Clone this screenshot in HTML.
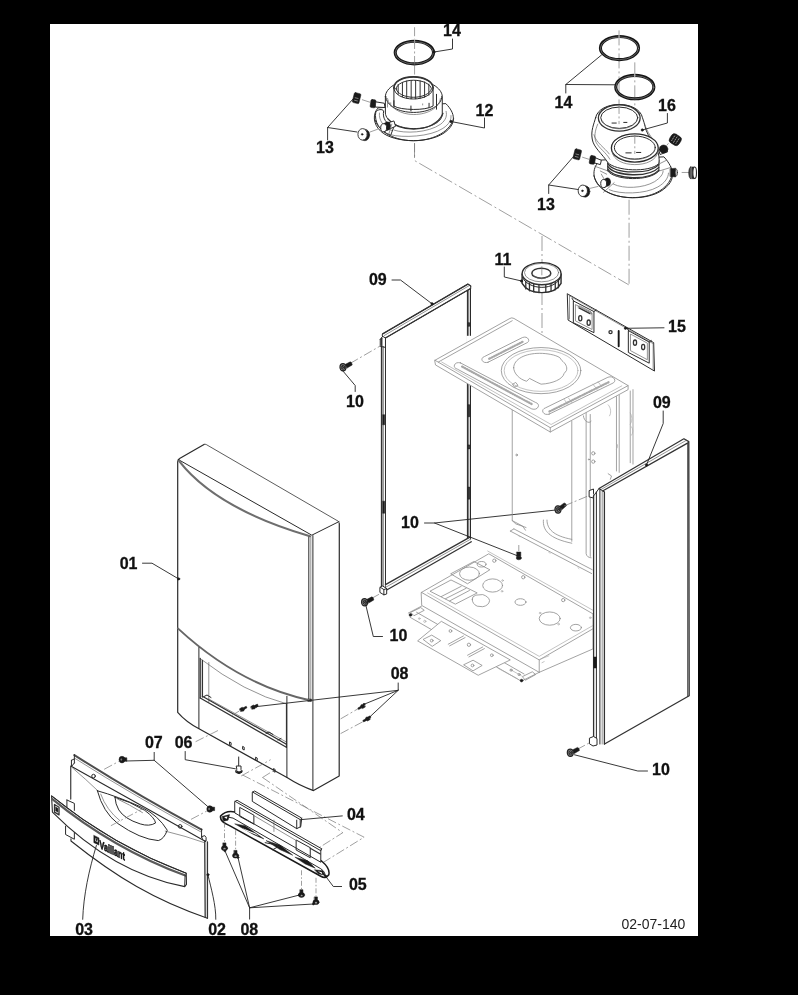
<!DOCTYPE html>
<html><head><meta charset="utf-8">
<style>
html,body{margin:0;padding:0;background:#000;width:798px;height:995px;overflow:hidden}
svg{display:block}
text{font-family:"Liberation Sans",sans-serif;font-weight:bold;font-size:16px;fill:#111;stroke:#111;stroke-width:.3px}
path,ellipse,circle,line,rect,polygon,polyline{vector-effect:non-scaling-stroke;stroke-linejoin:round;stroke-linecap:round}
.l{fill:none;stroke:#2a2a2a;stroke-width:1}
.b{fill:none;stroke:#151515;stroke-width:1.9}
.m{fill:none;stroke:#333;stroke-width:1.3}
.t{fill:none;stroke:#666;stroke-width:.7}
.g{fill:none;stroke:#8c8c8c;stroke-width:.8}
.gg{fill:none;stroke:#aaa;stroke-width:.7}
.d{fill:none;stroke:#777;stroke-width:.7;stroke-dasharray:9 2.5 2 2.5;stroke-linecap:butt}
.dl{fill:none;stroke:#777;stroke-width:.7;stroke-dasharray:15 3 2 3;stroke-linecap:butt}
.w{fill:#fff;stroke:#2a2a2a;stroke-width:1}
.wt{fill:#fff;stroke:#666;stroke-width:.7}
.wg{fill:#fff;stroke:#8c8c8c;stroke-width:.8}
.k{fill:#1a1a1a;stroke:#1a1a1a;stroke-width:.5}
.ld{fill:none;stroke:#222;stroke-width:.9}
</style></head><body>
<svg width="798" height="995" viewBox="0 0 798 995">
<defs><filter id="soft" filterUnits="userSpaceOnUse" x="0" y="0" width="798" height="995" color-interpolation-filters="sRGB"><feGaussianBlur stdDeviation="0.3"/></filter></defs>
<g filter="url(#soft)">
<rect x="0" y="0" width="798" height="995" fill="#000"/>
<rect x="50" y="24" width="648" height="912" fill="#fff"/>
<!-- 00_defs.svg -->
<defs>
<g id="scr10"><path class="k" d="M10 -14 L36 -27 Q44 -26 46 -12 L20 4Z"/><ellipse cx="0" cy="0" rx="15" ry="18" fill="#8a8a8a" stroke="#222" stroke-width="1.2"/><ellipse class="l" cx="1" cy="0" rx="8" ry="10"/><path class="l" d="M-5 -6L7 6M-5 6L7 -6"/></g>
<g id="scr08"><path class="k" d="M-2.6 -.6 L0 -2.2 L2.2 -.6 L1.6 1.6 L-1.4 2Z"/><path class="k" d="M1 -1.6 L4 -3.2 L4.8 -1.6 L2 0Z"/></g>
<g id="scr07"><ellipse class="k" cx="0" cy="0" rx="2.6" ry="2.9"/><ellipse cx="-.6" cy="0" rx=".8" ry="1" fill="#777"/><path class="k" d="M1.6 -1.6h2.6v3h-2.6z"/></g>
<g id="scr08v"><path class="k" d="M-1.2 -3.4h2.4v3h-2.4z"/><ellipse class="k" cx="0" cy="1" rx="2.6" ry="2"/><ellipse cx="0" cy="1.4" rx="1" ry=".7" fill="#999"/></g>
</defs>

<!-- 10_flue12.svg -->
<g transform="translate(330,24) scale(0.21303)">
 <!-- axis -->
 <path class="d" d="M397 15V70M397 195V245M397 560V628"/>
 <!-- ring 14 -->
 <ellipse class="b" style="stroke-width:3.1" cx="396" cy="134" rx="90" ry="53"/>
 <ellipse cx="396" cy="135" rx="90" ry="52.5" fill="none" stroke="#aaa" stroke-width=".5"/>
 <path d="M397 72V90" fill="none" stroke="#d8d8d8" stroke-width="1"/>
 <path class="d" d="M397 75V190"/>
 <!-- flange base -->
 <path class="w" d="M225 395 C200 420 200 470 240 505 C300 560 480 565 550 500 C590 465 590 420 545 375 Z"/>
 <path class="l" d="M212 452 C240 525 330 548 392 548 C470 548 560 515 580 445"/>
 <path class="t" d="M285 520 C340 535 470 530 530 490 C560 470 570 450 568 430"/>
 <path class="t" d="M300 498 C350 515 460 512 520 470 C545 450 550 430 545 410"/>
 <!-- curved bracket left -->
 <path class="w" d="M215 412 C225 400 245 398 252 408 C245 440 262 470 300 482 L285 522 C235 505 205 460 215 412Z"/>
 <path class="t" d="M232 418 C228 450 250 485 290 500"/>
 <!-- collar -->
 <path class="w" d="M260 340 V418 C262 455 320 491 393 491 C466 491 525 462 527 425 V340 C525 300 466 263 393 263 C320 263 260 300 260 340Z"/>
 <path class="m" d="M272 445 C300 480 350 493 393 493 C450 493 510 470 530 420"/>
 <path class="l" d="M262 340 C262 382 320 415 393 415 C466 415 525 382 525 340"/>
 <path class="t" d="M270 350 C275 390 330 425 393 425 C460 425 515 392 518 350"/>
 <!-- inner tube -->
 <path class="w" d="M300 300 V385 C330 405 450 408 484 385 V300 C484 270 440 248 392 248 C340 248 300 270 300 300Z"/>
 <path class="m" style="stroke-width:1.6" d="M300 300 C300 270 340 248 392 248 C440 248 484 270 484 300"/>
 <path class="l" d="M300 300 C300 330 340 352 392 352 C440 352 484 330 484 300"/>
 <path class="l" d="M310 304 C312 282 350 264 392 264 C435 264 472 282 476 304 C472 326 435 344 392 344 C350 344 314 326 310 304Z"/>
 <path d="M320 284V330M340 274V342M360 268V348M381 265V351M402 265V351M423 267V349M444 272V344M464 282V334" fill="none" stroke="#333" stroke-width="1"/>
 <path class="l" d="M380 385V408M465 372V392M300 360V390M500 330V400"/>
 <path class="t" d="M270 360V390M285 370V385M435 375V380"/>
 <!-- screws -->
 <path class="w" d="M212 365 L255 372 L258 392 L214 390Z"/>
 <rect class="k" x="190" y="355" width="24" height="38" rx="6" transform="rotate(8 202 374)"/>
 <path class="w" d="M255 470 L300 455 L308 480 L268 498Z"/>
 <ellipse class="k" cx="270" cy="479" rx="14" ry="19"/>
 <path class="k" d="M253 467 L270 460 L270 498 L253 506Z"/>
 <ellipse class="w" cx="252" cy="487" rx="14" ry="19"/>
 <path class="t" d="M275 520 L290 470"/>
 <!-- 13 parts -->
 <path class="d" d="M150 355L190 368M185 508L235 490"/>
 <g transform="rotate(14 125 348)"><rect class="k" x="109" y="324" width="32" height="48" rx="6"/><path d="M118 348h14M118 360h14" stroke="#fff" stroke-width=".45" fill="none"/></g>
 <ellipse class="k" cx="164" cy="521" rx="22" ry="27"/>
 <ellipse class="w" cx="153" cy="518" rx="22" ry="27" style="stroke-width:.9"/>
 <circle class="k" cx="151" cy="518" r="4"/>
</g>
<!-- leaders / labels for flue12 -->
<path class="ld" d="M434 52 L452.5 49 V39"/>
<circle class="k" cx="434" cy="52" r="1.2"/>
<path class="ld" d="M451 121.5 L484.5 128 V118"/>
<circle class="k" cx="451" cy="121.5" r="1.2"/>
<path class="ld" d="M327.6 140V127.5L353 99M327.6 127.5L357 132"/>
<text x="443.1" y="36">14</text>
<text x="475.6" y="115.5">12</text>
<text x="316.1" y="153">13</text>

<!-- 11_flue16.svg -->
<g transform="translate(530,24) scale(0.21303)">
 <!-- axes -->
 <path class="dl" d="M418 30V470M492 180V610M465 825V1224"/>
 <!-- rings 14 -->
 <ellipse class="b" style="stroke-width:3.1" cx="420" cy="113" rx="89.5" ry="54"/>
 <ellipse cx="420" cy="114" rx="89.5" ry="53.5" fill="none" stroke="#aaa" stroke-width=".5"/>
 <path d="M418 50V70" fill="none" stroke="#d8d8d8" stroke-width="1"/>
 <ellipse class="b" style="stroke-width:3.1" cx="492" cy="296" rx="89.5" ry="55"/>
 <ellipse cx="492" cy="297" rx="89.5" ry="54.5" fill="none" stroke="#aaa" stroke-width=".5"/>
 <path d="M492 232V252" fill="none" stroke="#d8d8d8" stroke-width="1"/>
 <!-- flange base -->
 <path class="w" d="M330 640 C290 670 290 730 330 765 C390 830 570 835 640 765 C680 730 680 680 630 625Z"/>
 <path class="l" d="M300 712 C320 790 410 815 480 815 C560 815 650 785 668 705"/>
 <path class="t" d="M372 778 C420 800 540 800 600 765 C635 745 650 720 650 700"/>
 <path class="t" d="M392 752 C440 775 530 772 585 740 C612 722 625 705 625 690"/>
 <path class="t" d="M305 668L372 692M395 745L345 790M600 692L665 672M640 640L610 655"/>
 <path class="t" d="M330 690L360 705M335 705L352 735"/>
 <!-- base collar threaded -->
 <path class="w" d="M365 640 V690 C400 735 560 740 605 690 V640Z"/>
 <path class="m" d="M365 655 C400 705 560 708 605 660"/>
 <path class="m" d="M365 668 C400 718 560 722 605 673"/>
 <path class="m" d="M366 682 C400 732 560 736 605 686"/>
 <!-- body -->
 <path class="w" d="M308 440 C300 470 285 500 292 540 C298 580 340 610 365 650 C400 690 560 700 605 655 C612 610 590 560 555 520 C540 495 540 470 528 440 C520 400 470 378 420 378 C365 378 315 400 308 440Z"/>
 <path class="t" d="M318 470 C305 500 300 530 310 555 C325 585 355 600 375 635"/>
 <path class="t" d="M300 520 C312 560 350 580 372 610"/>
 <path class="t" d="M538 470 C548 500 560 520 580 545"/>
 <!-- upper tube -->
 <ellipse class="m" cx="419" cy="441" rx="98" ry="62"/>
 <ellipse class="l" cx="419" cy="440" rx="87" ry="50"/>
 <path class="t" d="M340 455 C350 480 390 492 420 492 C455 492 495 478 502 452"/>
 <path class="l" d="M385 465H405M440 462H455"/>
 <!-- lower tube -->
 <ellipse class="w" cx="492" cy="582" rx="110" ry="66" style="stroke-width:1.3"/>
 <ellipse class="l" cx="492" cy="580" rx="96" ry="54"/>
 <path class="t" d="M400 595 C410 620 455 636 492 636 C535 636 578 620 586 592"/>
 <path class="t" d="M385 600 C392 640 440 660 492 660 C545 660 595 640 600 600"/>
 <path class="l" d="M450 605H475M500 603H520"/>
 <path class="d" d="M418 380V470M492 520V610"/>
 <!-- screws on body -->
 <path class="w" d="M300 625 L335 640 L330 660 L295 650Z"/>
 <rect class="k" x="280" y="618" width="26" height="40" rx="7" transform="rotate(10 293 638)"/>
 <ellipse class="k" cx="364" cy="742" rx="14" ry="19"/>
 <path class="k" d="M348 730 L364 723 L364 761 L348 768Z"/>
 <ellipse class="w" cx="346" cy="749" rx="14" ry="19"/>
 <path class="w" d="M606 590 L640 578 L646 600 L612 612Z"/>
 <ellipse class="k" cx="627" cy="587" rx="20" ry="19"/>
 <path class="k" d="M659 679 L684 677 Q690 697 684 718 L659 716Z"/>
 <ellipse cx="687" cy="697.5" rx="5.5" ry="16" fill="#bbb" stroke="#222" stroke-width=".6"/>
 <!-- 13 parts -->
 <path class="d" d="M245 625L283 637M280 772L330 760M650 560L640 572M712 697L748 697"/>
 <g transform="rotate(14 222 612)"><rect class="k" x="206" y="588" width="32" height="48" rx="6"/><path d="M215 612h14M215 624h14" stroke="#fff" stroke-width=".45" fill="none"/></g>
 <ellipse class="k" cx="259" cy="786" rx="22" ry="27"/>
 <ellipse class="w" cx="248" cy="783" rx="22" ry="27" style="stroke-width:.9"/>
 <circle class="k" cx="246" cy="783" r="4"/>
 <!-- right nuts -->
 <g transform="rotate(32 682 543)"><rect class="k" x="656" y="519" width="52" height="48" rx="16"/><path d="M670 530V556M682 528V558M694 530V556" stroke="#eee" stroke-width=".6" fill="none" stroke-dasharray="1.2 1.4"/></g>
 <path class="k" d="M753 671 H772 V726 H753 Q745 722 745 698 Q745 675 753 671Z"/>
 <ellipse class="w" cx="773" cy="698.5" rx="8.5" ry="27" style="stroke-width:1.1"/>
 <path d="M752 676V722M759 673V725" stroke="#ddd" stroke-width=".5" fill="none"/>
</g>
<!-- leaders / labels for flue16 -->
<path class="ld" d="M565.8 93V84.5L601.5 55M565.8 84.5L615 84.8"/>
<path class="ld" d="M667.4 113.5V123L642.3 130"/>
<circle class="k" cx="642.3" cy="130" r="1.2"/>
<path class="ld" d="M548.7 193.5V185L574 156M548.7 185L578 189.5"/>
<text x="554.6" y="107.7">14</text>
<text x="658.1" y="110.5">16</text>
<text x="537.1" y="209.5">13</text>

<!-- 12_mid.svg -->
<!-- long dash-dot lines -->
<path class="dl" d="M414.5 143V160.5L628.7 284.8"/>
<path class="dl" d="M542 236V262M542 290V386"/>
<g transform="translate(490,240) scale(0.26316)">
 <!-- part 11 -->
 <path class="w" style="stroke-width:1.4" d="M122 128 V165 C135 188 165 200 197 200 C230 200 258 188 270 165 V128 C270 105 238 86 197 86 C155 86 122 105 122 128Z"/>
 <path class="m" d="M122 130 C125 152 160 170 197 170 C235 170 268 152 271 130"/>
 <path class="m" d="M136 158V186M150 165V193M166 169V197M186 172V200M212 171V199M232 167V195M248 161V189M260 153V181"/>
 <path class="l" d="M124 142 C130 162 162 180 197 180 C232 180 262 162 268 142"/>
 <ellipse class="t" cx="196" cy="124" rx="65" ry="35"/>
 <ellipse class="m" cx="195" cy="126" rx="36" ry="19" style="stroke-width:1.5"/>
 <path class="t" d="M162 132 C170 142 185 146 196 146 C210 146 226 140 231 132"/>
 <path class="d" d="M197 100V150"/>
 <!-- panel 15 -->
 <path class="w" d="M295 205 L622 390 L625 498 L298 305Z"/>
 <path class="t" d="M302 212 L302 300 M295 205 L302 212 L620 394 V492"/>
 <path class="l" d="M318 232 L395 272 V352 L318 315Z"/>
 <path class="t" d="M326 246 L388 279 V340 L326 308Z"/>
 <path class="l" d="M527 345 L605 388 V468 L527 428Z"/>
 <path class="t" d="M535 358 L598 392 V455 L535 421Z"/>
 <path class="m" d="M338 258 L380 280"/>
 <path class="t" d="M334 254 C336 250 340 250 344 252 L384 273 C388 276 388 282 384 284"/>
 <ellipse class="m" cx="343" cy="297" rx="6" ry="10"/>
 <ellipse class="m" cx="375" cy="314" rx="6" ry="10"/>
 <ellipse class="m" cx="551" cy="390" rx="6" ry="10"/>
 <ellipse class="m" cx="582" cy="407" rx="6" ry="10"/>
 <circle class="m" cx="458" cy="350" r="6"/>
 <path class="b" d="M489 346V404"/>
 <path class="l" d="M318 232l-6 -10M395 272l8 -6M527 345l-6 -10M605 388l8 -6"/>
</g>
<path class="ld" d="M504.3 267V277L521.5 281"/>
<circle class="k" cx="521.5" cy="281" r="1.2"/>
<path class="ld" d="M664 327.8L625.5 328.3"/>
<circle class="k" cx="625.5" cy="328.3" r="1.2"/>
<text x="494.6" y="265.2">11</text>
<text x="668.1" y="331.8">15</text>

<!-- 20_panel09L.svg -->
<g transform="translate(330,270) scale(0.20101)">
 <!-- right (far) vertical -->
 <path class="m" style="stroke-width:1.6" d="M685 82V1332"/><path class="l" d="M699 90V1348"/>
 <path class="t" d="M691 88V1340"/>
 <path class="k" d="M688 262h7v18h-7zM688 670h7v60h-7zM688 870h7v20h-7zM688 1080h7v60h-7z"/>
 <!-- top bar -->
 <path class="w" d="M262 318 L686 70 L700 80 L700 92 L276 338 L262 330Z"/>
 <path class="m" d="M262 318 L686 70 L700 80"/>
 <path class="m" d="M276 338 L699 92"/>
 <path class="t" d="M270 326 L692 78"/>
 <!-- left vertical -->
 <path class="w" d="M255 340 H276 V1580 H255Z" style="stroke:none"/>
 <path class="m" style="stroke-width:1.6" d="M257 340V1585"/><path class="l" d="M276 338V1590"/>
 <path class="t" d="M266 380V1580"/>
 <path class="l" d="M250 345 L262 330 M250 345 V380 L276 385"/>
 <path class="k" d="M263 720h9v50h-9zM263 1150h9v60h-9z"/>
 <!-- bottom bar -->
 <path class="w" d="M276 1565 L694 1330 L703 1350 L280 1592Z" style="stroke:none"/>
 <path class="m" d="M276 1565 L694 1330M282 1592 L703 1352"/>
 <path class="t" d="M278 1578 L698 1340"/>
 <!-- foot -->
 <path class="w" d="M250 1578 L262 1572 L282 1585 L282 1612 L268 1616 L250 1605Z"/>
 <path class="l" d="M268 1590V1616M250 1578L268 1590L282 1585"/>
 <!-- screws 10 -->
 <path class="d" d="M100 465L255 375M205 1635L250 1610"/>
</g>
<use href="#scr10" transform="translate(343,367.3) scale(0.20101)"/>
<use href="#scr10" transform="translate(364.6,602.3) scale(0.20101)"/>
<path class="ld" d="M392 280H400.5L432 303.8"/>
<circle class="k" cx="432" cy="303.8" r="1.2"/>
<path class="ld" d="M355.2 391.5V385.5L342.5 370.5"/>
<path class="ld" d="M382.5 636.5H373.3L365.8 605"/>
<path class="ld" d="M424.5 523H434.5L556 510M434.5 523L518 556"/>
<text x="368.9" y="285">09</text>
<text x="346.1" y="406.7">10</text>
<text x="401.1" y="527.8">10</text>
<text x="389.6" y="641">10</text>

<!-- 30_chassis.svg -->
<!-- chassis body (behind top plate) -->
<g transform="translate(440,380) scale(0.27571)">
 <path class="g" d="M262 105V510L275 522L312 535M478 150V585"/>
 <path class="g" d="M262 510 L300 530 L310 545 M375 508 C372 545 395 575 478 592M388 508 C388 540 410 565 478 578"/>
 <path class="g" d="M255 548 L550 702M268 540 L552 688M255 548L268 540"/>
 <circle class="g" cx="278" cy="272" r="3"/>
 <path class="g" d="M530 118V630C532 640 540 645 548 645M545 125V640"/>
 <path class="g" d="M640 60V330M650 55V335M690 40V300M700 35V305"/>
 <path class="gg" d="M610 90C620 100 622 120 615 130M690 120c8 10 8 30 0 40M695 170c6 8 6 22 0 30M640 230c6 5 6 15 0 20"/>
 <circle class="g" cx="556" cy="266" r="6"/><circle class="g" cx="556" cy="296" r="6"/><circle class="g" cx="540" cy="288" r="2"/>
 <path class="g" d="M520 130 C522 150 540 160 548 150M610 340l12 8l-4 12"/>
 <path class="gg" d="M285 565l4 4M395 625l4 4M500 680l4 4"/>
</g>
<!-- top plate -->
<rect x="466.3" y="335.8" width="6" height="9" fill="#fff"/>
<g transform="translate(420,300) scale(0.28822)">
 <path class="wg" d="M52 209 L312 64 Q318 60 326 64 L722 297 L722 311 L452 458 L55 226Z"/>
 <path class="g" d="M52 209 L452 443 L722 297M452 443V458"/>
 <path class="gg" d="M75 215 L455 432 L700 298"/>
 <path class="g" d="M64 215 L320 72"/>
 <g class="g">
  <path d="M236 216 L368 150 A14 10 0 0 0 356 130 L224 196 A14 10 0 0 0 236 216Z"/>
  <path d="M140 218 L400 355 A14 10 0 0 1 388 378 L130 240 A14 10 0 0 1 140 218Z"/>
  <path d="M448 396 L666 290 A14 10 0 0 0 652 268 L436 374 A14 10 0 0 0 448 396Z"/>
 </g>
 <g fill="none" stroke="#a8a8a8" stroke-width="2.2" stroke-dasharray="1 1.6" stroke-linecap="butt">
  <path d="M240 204L358 144"/>
  <path d="M146 231L391 363"/>
  <path d="M449 387L657 284"/>
 </g>
 <g class="gg">
  <path d="M500 345l14 18M515 340l12 16M600 292l14 18M618 284l12 16"/>
 </g>
 <ellipse class="g" cx="420" cy="245" rx="138" ry="80"/>
 <ellipse class="gg" cx="420" cy="245" rx="128" ry="72"/>
 <path class="g" d="M325 235 C325 205 365 185 415 185 C440 185 470 190 485 200 L492 210 C505 220 512 232 508 245 L500 255 C495 275 460 290 420 292 L405 285 L380 272 L370 282 C345 275 325 255 325 235Z"/>
 <path class="g" d="M322 292l10 -6l8 10l-10 6z"/>
</g>
<!-- bottom tray -->
<g transform="translate(400,540) scale(0.27571)">
 <path class="wg" d="M78 190 L322 50 L700 268 V395 L505 480 L80 238Z"/>
 <path class="g" d="M78 190 L505 435 L700 322M505 435V480"/>
 <path class="gg" d="M100 192 L505 422 L700 310M318 40 L700 255"/>
 <path class="g" d="M110 185 L185 145 L280 192 L202 232Z M150 205 L222 168M165 213L240 175M180 221L252 183"/>
 <path class="g" d="M185 122 L268 78 L326 108 L246 158Z"/>
 <ellipse class="g" cx="252" cy="122" rx="36" ry="24"/>
 <ellipse class="g" cx="336" cy="165" rx="36" ry="24"/>
 <ellipse class="g" cx="296" cy="88" rx="16" ry="10"/>
 <path class="g" d="M262 215 Q260 205 275 200 L300 198 Q322 205 325 220 Q322 238 300 242 L280 240 Q262 232 262 215Z"/>
 <ellipse class="g" cx="437" cy="225" rx="20" ry="12"/>
 <ellipse class="g" cx="543" cy="285" rx="38" ry="24"/>
 <ellipse class="g" cx="638" cy="318" rx="20" ry="12"/>
 <circle class="g" cx="342" cy="75" r="6"/><circle class="g" cx="447" cy="135" r="6"/><circle class="g" cx="592" cy="218" r="6"/>
 <circle class="gg" cx="372" cy="147" r="3"/><circle class="gg" cx="370" cy="186" r="3"/><circle class="gg" cx="508" cy="265" r="3"/><circle class="gg" cx="575" cy="305" r="3"/><circle class="gg" cx="690" cy="282" r="3"/>
 <!-- rail and rollers -->
 <path class="g" d="M30 265 L78 240M36 280 L440 512M60 262L450 486M440 512 L505 480"/>
 <path class="g" d="M40 262 L75 245 L88 255 L52 274Z"/>
 <circle class="k" cx="38" cy="272" r="5"/>
 <path class="g" d="M445 495 L480 478 L492 488 L456 508Z"/>
 <circle class="k" cx="441" cy="510" r="5"/>
 <!-- bracket plate -->
 <path class="wg" d="M65 365 L150 295 L400 435 L285 490Z"/>
 <path class="g" d="M85 360 L115 345 L148 365 L118 385ZM232 452 L265 436 L298 455 L266 474Z"/>
 <path class="g" d="M175 378 L230 348 M180 384L236 354M245 418L300 388M250 424L306 394"/>
 <circle class="g" cx="183" cy="330" r="5"/><circle class="g" cx="250" cy="380" r="6"/><circle class="g" cx="333" cy="418" r="5"/><circle class="g" cx="115" cy="365" r="5"/><circle class="g" cx="263" cy="455" r="5"/>
 <path class="gg" d="M355 465l70 38M400 470l40 22"/>
 <circle class="g" cx="403" cy="472" r="4"/><circle class="g" cx="432" cy="488" r="4"/>
 <circle class="gg" cx="90" cy="295" r="4"/><circle class="gg" cx="70" cy="285" r="3"/>
 <path class="gg" d="M510 432l30 -12M515 445l8 -4"/>
</g>
<!-- middle/back screws 10 -->
<path class="d" d="M518.8 545V551"/>
<use href="#scr10" transform="translate(558,509.5) scale(0.2) rotate(-10)"/>
<path class="k" d="M516.8 552h4v4.5h-4z"/><ellipse class="k" cx="518.8" cy="558" rx="2.6" ry="1.8"/>

<!-- 40_panel09R.svg -->
<!-- right panel 09 -->
<path class="d" d="M564 506L588 496"/>
<path class="w" d="M589.5 490.5 L593.5 489 L593.5 498 L589.5 497Z"/>
<path class="w" d="M593.5 494 L599 488.5 L683.9 438.8 L688.8 441.6 L689.2 695.8 L604.5 744 L597 744.5 L593.5 742Z" style="stroke:none"/>
<path class="m" d="M599 488.5 L683.9 438.8 L688.8 441.6 L689.2 695.8 L604.5 744"/>
<path class="m" d="M602.6 491 L688.4 442.6"/>
<path class="t" d="M600.5 489.8 L686 440.5"/>
<path class="m" d="M593.6 496V742M604.4 492V744"/>
<path class="l" d="M596.4 492V742M599.9 489V744M593.6 496L599 488.5L604.4 492"/>
<path class="t" d="M602.2 491V744"/>
<path class="l" d="M687.8 444V696"/>
<path class="k" d="M594 657h2.5v11h-2.5z"/>
<path class="w" d="M589.8 738 L593.5 736.5 L597 738.5 V745 L593 746 L589.8 744Z"/>
<path class="d" d="M577 749.5L590 742.5"/>
<use href="#scr10" transform="translate(570.3,752.8) scale(0.2)"/>
<path class="ld" d="M647.5 771H637.8L574.5 754.8"/>
<path class="ld" d="M663.2 411V423.5L646.5 465"/>
<circle class="k" cx="646.5" cy="465" r="1.2"/>
<text x="652.9" y="407.5">09</text>
<text x="652.1" y="774.7">10</text>

<!-- 50_cover01.svg -->
<!-- front cover 01 -->
<path class="d" d="M340.6 718.9L360.2 707.5M340.6 733.6L365 720.6"/>
<path class="w" d="M177.7 462 Q177.7 459.6 179.6 458.6 L204 444.4 Q205 443.8 206.2 444.5 L338.2 521.2 Q339.3 521.9 339.3 523.5 L339.2 776 L313.5 790.6 Q300 786 287 777.6 L199 728.8 Q186 722 177.7 712.4Z" style="stroke:none"/>
<path class="l" style="stroke-width:1.2" d="M204 444.4 L179.6 458.6 Q177.7 459.6 177.7 462 L177.7 712.4 Q186 722 199 728.8 L287 777.6 Q300 786 313.5 790.6 L339.2 776 L339.3 523.5"/>
<path d="M204 444.4 Q205 443.8 206.2 444.5 L338.2 521.2 Q339.3 521.9 339.3 523.5" fill="none" stroke="#4a4a4a" stroke-width=".9"/>
<!-- top face front edge -->
<path class="l" d="M178.4 459.6 L311.8 535.2 L339 521.6"/>
<!-- door top curve -->
<path d="M179.2 461.2 Q216 508.6 310 536.2" fill="none" stroke="#6e6e6e" stroke-width="2.1"/>
<!-- door right edge -->
<path class="l" d="M308.8 537V700.5M312.9 535.6V790.4"/>
<path class="t" d="M310.8 536.5V701"/>
<path class="k" d="M308 699h3.4v2.4H308z"/>
<!-- dividing curve -->
<path d="M177.9 628.4 Q239 685 309.7 700.2" fill="none" stroke="#666" stroke-width="1.9"/>
<!-- lower section -->
<path class="l" d="M198.9 647.5V728.5M286.9 696.3V777.5"/>
<!-- window -->
<path class="t" d="M200 658.5 Q245 693 286.5 703.8"/>
<path class="m" d="M200.2 658.5V698M202.4 660.5V697"/>
<path class="t" d="M208.8 662.5V702"/>
<path class="m" d="M200.2 698 L286.4 747.2M202.4 696.2 L286.4 744.2"/>
<path class="t" d="M208.8 699 L286.4 742"/>
<path class="l" d="M286.4 704V747.5"/>
<path class="l" d="M204 696.5l3 -1.5l4 2.5M266 733.5l3 -1.5l4 2.5M278 740l3 -1.5"/>
<!-- bottom edge marks -->
<path class="l" d="M229.5 742.3v2.4l1.6 .8v-2.4zM242.6 746.8v2.4l1.6 .8v-2.4zM255.6 757.6v2.4l1.6 .8v-2.4zM273.5 769v2.4l1.6 .8v-2.4z"/>
<!-- dashes -->
<path class="d" d="M195.6 741.7L218.4 730.3M231.5 715.7L239.6 710.8"/>
<path class="d" d="M241.2 776L270.6 759.7M262.4 777.6L275.4 769.4"/>
<path class="d" d="M242.6 775L364.1 837.2L322.8 862.7M262.6 777.5L342.8 832.7L319 847.7"/>
<!-- screws 08 -->
<use href="#scr08" transform="translate(242.2,709.4)"/>
<use href="#scr08" transform="translate(253.4,707.2)"/>
<use href="#scr08" transform="translate(362.6,706.4) scale(-1,-1)"/>
<use href="#scr08" transform="translate(367.6,718.8) scale(-1,-1)"/>
<path class="ld" d="M398.2 683V690.3L256.5 706.6M398.2 690.3L364 704.3M398.2 690.3L369.7 717"/>
<circle class="k" cx="364" cy="704.3" r="1"/><circle class="k" cx="369.7" cy="717" r="1"/><circle class="k" cx="256.3" cy="706.6" r="1"/>
<!-- part 06 -->
<path class="l" d="M238.7 757V766"/>
<path class="w" d="M236.6 766 h4.4 v3.6 l1 1 v1.6 l-2.8 1.4 l-3.4 -1.2 v-1.8 l.8 -1Z"/>
<path class="k" d="M236.4 770.6l2.6 1.2l2.8 -1.2v1.6l-2.8 1.4l-2.6 -1.2z"/>
<path class="ld" d="M185.2 751.5V759.7L235.4 768.8"/>
<!-- 01 leader -->
<path class="ld" d="M142.5 563.2H152L178.6 578.9"/>
<circle class="k" cx="178.6" cy="578.9" r="1.2"/>
<text x="119.7" y="569">01</text>
<text x="390.7" y="679.3">08</text>
<text x="174.7" y="747.5">06</text>

<!-- 60_flap.svg -->
<g transform="translate(50,740) scale(0.22556)">
 <!-- dashes -->
 <path class="d" d="M240 130L305 95M625 352L695 315"/>
 <!-- back plate -->
 <path class="w" d="M108 65 Q380 238 672 395 L672 432 L108 102Z" style="stroke:none"/>
 <path d="M108 67 Q380 240 672 397" fill="none" stroke="#4d4d4d" stroke-width="2"/><path class="l" d="M108 65V102M672 395V432"/>
 <path class="t" d="M108 80 Q380 252 670 408"/>
 <path class="l" d="M95 90V118L108 102M95 90L108 84"/>
 <path class="w" d="M674 428 L686 424 L692 432 V448 L680 446Z"/>
 <!-- flap body -->
 <path class="w" d="M92 115 Q391 282 690 450 L698 790 C468 712 293 608 93 448 L93 432 L69 419 V382 L75 300 V266 L92 262Z" style="stroke:none"/>
 <path class="l" style="stroke-width:1.1" d="M92 262V115 Q391 282 690 450M698 790 C468 712 293 608 93 448 V438"/>
 <path class="m" d="M686 450 L688 786M698 452V790"/>
 <path class="t" d="M100 124 Q160 175 213 226M511 404 Q600 425 684 455"/>
 <path class="l" d="M75 266 L108 281 V312M75 266V296M69 382V419L108 440V408"/>
 <circle class="l" cx="193" cy="160" r="8"/><circle class="l" cx="577" cy="383" r="8"/>
 <!-- handle recess -->
 <path class="l" d="M210 225 Q300 250 410 300 Q480 335 520 400 Q505 440 480 446 Q400 440 300 370 Q235 320 210 225Z"/>
 <path class="l" d="M288 254 Q350 270 420 312 Q465 345 468 368 Q440 385 400 372 Q330 350 305 310 Q290 285 288 254Z"/>
 <path class="t" d="M225 240 Q250 310 310 358M300 262 Q350 285 410 322"/>
 <path class="d" d="M270 380L420 300"/>
 <!-- trim strip 03 -->
 <path class="w" d="M7 248 Q280 470 604 590.6 L605 640 L597 650 Q280 590 10.7 319.5Z" style="stroke-width:1.1"/>
 <path class="l" d="M7 248 Q280 470 604 590.6"/>
 <path d="M9 261 Q280 483 600 601" fill="none" stroke="#5a5a5a" stroke-width="2.2"/>
 <path class="l" d="M599 598 L597 650"/>
 <path class="m" d="M20 286 L40 298 V332 L20 320Z"/>
 <path class="k" d="M25 297 L35 303 V320 L25 314Z"/>
 <!-- logo -->
 <path class="k" d="M195 423 L217 434 V466 L195 455Z"/>
 <path d="M200 433 L212 439 V454 L200 448Z" fill="#ddd"/>
 <path class="k" d="M203 437 l3 12 l4 -8z"/>
 <text transform="translate(220,479) skewY(26)" style="font-size:50px;font-weight:bold;fill:#111;stroke:#111;stroke-width:3px" textLength="112" lengthAdjust="spacingAndGlyphs">Vaillant</text>
</g>
<!-- screws 07 -->
<use href="#scr07" transform="translate(122,759.6) scale(1.15)"/>
<use href="#scr07" transform="translate(209.8,809) scale(1.15)"/>
<path class="ld" d="M154.2 752.4V760.3L126 761M154.2 760.3L207.5 806.3"/>
<path class="ld" d="M82.7 919.3 C83.5 895 89 870 96.4 845.5"/>
<path class="ld" d="M215.8 919.3 C216 905 211 888 207.9 874.7"/>
<circle class="k" cx="207.9" cy="874.7" r="1.2"/>
<text x="144.9" y="747.6">07</text>
<text x="75.2" y="934.5">03</text>
<text x="208.2" y="934.5">02</text>

<!-- 70_p0405.svg -->
<g transform="translate(205,770) scale(0.25063)">
 <!-- part 04 -->
 <path class="w" d="M190 88 L198 84 L386 192 L382 226 L366 234 L190 126Z"/>
 <path class="l" d="M190 88 L380 198 L386 192M380 198 V228M366 200V234"/>

 <!-- part 05 base -->
 <path class="w" style="stroke-width:1.5;stroke:#1a1a1a" d="M62 184 Q84 160 120 168 L466 364 Q500 392 494 418 Q482 436 462 424 L98 222 Q58 206 62 184Z"/>
 <path class="l" d="M72 194 Q90 182 112 192 L462 394 Q482 408 478 420"/>
 <path class="k" d="M120 215 L160 222 L235 275 L195 258ZM245 282 L300 300 L350 340 L300 318ZM360 348 L410 362 L440 392 L400 375Z"/>
 <path d="M150 232 L200 252 L215 264 L165 242ZM290 312 L330 330 L322 326Z" fill="#fff"/>
 <path class="k" d="M68 186 L98 178 L92 200 L74 204ZM438 398 L470 402 L478 420 L452 414Z"/>
 <path d="M76 188 L90 186 L86 196Z M450 404 L466 408 L468 416Z" fill="#fff"/>
 <path class="l" d="M240 290 L290 300M270 318 L300 302"/>
 <!-- part 05 back wall -->
 <path class="w" d="M120 125 L128 121 L465 314 L462 322 V368 L120 172Z"/>
 <path class="l" d="M120 125 L462 322 L465 314"/>
 <path class="l" d="M140 150 L195 180 V216 L140 186ZM365 280 L420 310 V350 L365 320Z"/>
 <path class="t" d="M195 182 L365 282M275 200V245"/>
 <path class="m" d="M420 312 L460 335"/>
</g>
<!-- dash verticals + screws 08 -->
<path class="d" d="M224.5 822.6V843M235.6 830.2V850M301.5 870.3V889M316 877.8V896.5" style="stroke-dasharray:5 2 1.5 2"/>
<use href="#scr08v" transform="translate(224.5,847) scale(1.2)"/>
<use href="#scr08v" transform="translate(235.6,854.5) scale(1.2)"/>
<use href="#scr08v" transform="translate(301.5,893.8) scale(1.2)"/>
<use href="#scr08v" transform="translate(316,901) scale(1.2)"/>
<path class="ld" d="M249.6 919.1V907.8L224.8 850.5M249.6 907.8L238 857.5M249.6 907.8L299.5 895M249.6 907.8L313.5 904"/>
<circle class="k" cx="224.8" cy="850.8" r="1"/><circle class="k" cx="238" cy="857.5" r="1"/><circle class="k" cx="299.3" cy="895" r="1"/><circle class="k" cx="313.3" cy="904" r="1"/>
<path class="ld" d="M342.3 815.9L301.5 819.6"/>
<path class="ld" d="M341.6 886.5H333.3L325.3 875.8"/>
<circle class="k" cx="325.3" cy="875.8" r="1.1"/>
<text x="346.9" y="820.2">04</text>
<text x="348.9" y="890.4">05</text>
<text x="240.4" y="934.7">08</text>
<text x="621.5" y="928.6" style="font-weight:normal;font-size:14px;fill:#222;stroke:none">02-07-140</text>

</g>
</svg>
</body></html>
